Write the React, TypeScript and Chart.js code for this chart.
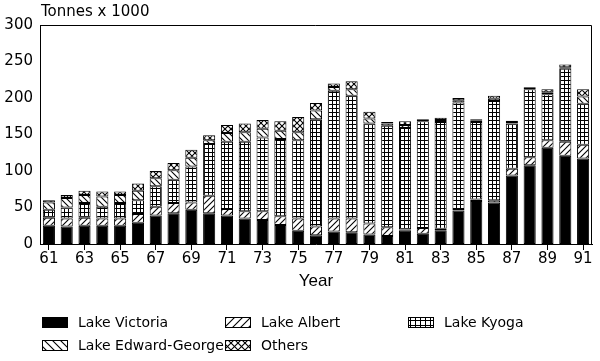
import { useEffect, useRef } from 'react';
import { Chart, registerables } from 'chart.js';

Chart.register(...registerables);

const YEARS = ['61','62','63','64','65','66','67','68','69','70','71','72','73','74','75','76','77','78','79','80','81','82','83','84','85','86','87','88','89','90','91'];
const VICTORIA = [25,24,25,25,25,29,39,42,47,42,39,35,33,26,18,12,17,16,13,11,19,14,19,46,59,57,94,108,132,121,117];
const ALBERT = [11,11,11,10,10,12,12,14,10,24,9,10,12,12,17,12,18,19,15,12,1,8,2,2,2,3,9,11,10,19,19];
const KYOGA = [11,15,20,16,21,19,28,32,49,71,92,95,101,106,107,147,175,168,137,139,139,146,146,146,106,136,62,93,63,100,56];
const EDWARD_GEORGE = [10,13,11,14,11,13,11,13,12,5,12,13,12,11,11,12,5,9,7,3,4,2,3,3,2,3,2,2,3,2,10];
const OTHERS = [3,4,6,7,5,10,10,10,11,7,11,12,12,13,21,10,5,11,9,2,5,1,3,3,2,4,2,1,4,4,10];
const SERIES_NAMES = ['Lake Victoria','Lake Albert','Lake Kyoga','Lake Edward-George','Others'];
const Y_TICKS = [0,50,100,150,200,250,300];
const Y_TITLE = 'Tonnes x 1000';
const X_TITLE = 'Year';

type Kind = 'solid' | 'fwd' | 'grid' | 'back' | 'cross';
const KINDS: Kind[] = ['solid','fwd','grid','back','cross'];

function makePattern(kind: Kind, s: number): CanvasPattern | string {
  if (kind === 'solid') return '#000';
  const c = document.createElement('canvas');
  c.width = s; c.height = s;
  const g = c.getContext('2d')!;
  g.fillStyle = '#fff';
  g.fillRect(0, 0, s, s);
  g.strokeStyle = '#000';
  g.fillStyle = '#000';
  g.lineWidth = 1.1;
  const fwd = () => {
    g.beginPath();
    g.moveTo(-1, s + 1); g.lineTo(s + 1, -1);
    g.moveTo(-2, 2); g.lineTo(2, -2);
    g.moveTo(s - 2, s + 2); g.lineTo(s + 2, s - 2);
    g.stroke();
  };
  const back = () => {
    g.beginPath();
    g.moveTo(-1, -1); g.lineTo(s + 1, s + 1);
    g.moveTo(s - 2, -2); g.lineTo(s + 2, 2);
    g.moveTo(-2, s - 2); g.lineTo(2, s + 2);
    g.stroke();
  };
  if (kind === 'fwd') fwd();
  else if (kind === 'back') back();
  else if (kind === 'cross') { fwd(); back(); }
  else if (kind === 'grid') {
    g.fillRect(0, 0, 1, s);
    g.fillRect(0, 0, s, 1);
  }
  return g.createPattern(c, 'repeat')!;
}

export default function App() {
  const ref = useRef<HTMLCanvasElement | null>(null);

  useEffect(() => {
    const canvas = ref.current;
    if (!canvas) return;
    const sizes = [0, 6, 4, 6, 6];
    const legendSizes = [0, 8, 5, 8, 7];
    const fills = KINDS.map((k, i) => makePattern(k, sizes[i]));
    const legendFills = KINDS.map((k, i) => makePattern(k, legendSizes[i]));
    const values = [VICTORIA, ALBERT, KYOGA, EDWARD_GEORGE, OTHERS];

    const decor = {
      id: 'decor',
      afterDraw(chart: any) {
        const { ctx, chartArea } = chart;
        const { left, top, right, bottom } = chartArea;
        ctx.save();
        ctx.strokeStyle = '#000';
        ctx.lineWidth = 1;
        ctx.beginPath();
        ctx.moveTo(left, top + 0.5);
        ctx.lineTo(right - 0.5, top + 0.5);
        ctx.lineTo(right - 0.5, bottom);
        ctx.stroke();

        ctx.fillStyle = '#000';
        ctx.font = '15px "DejaVu Sans"';
        ctx.textAlign = 'left';
        ctx.textBaseline = 'alphabetic';
        ctx.fillText(Y_TITLE, 41, 16);

        const colX = [42, 225, 408];
        const rowY = [317, 340];
        ctx.font = '14px "DejaVu Sans"';
        ctx.textBaseline = 'middle';
        SERIES_NAMES.forEach((name, i) => {
          const x = colX[i % 3];
          const y = rowY[Math.floor(i / 3)];
          ctx.fillStyle = legendFills[i];
          ctx.fillRect(x, y, 26, 11);
          ctx.strokeStyle = '#000';
          ctx.lineWidth = 1;
          ctx.strokeRect(x + 0.5, y + 0.5, 25, 10);
          ctx.fillStyle = '#000';
          ctx.fillText(name, x + 36, y + 6);
        });
        ctx.restore();
      },
    };

    const chart = new Chart(canvas, {
      type: 'bar',
      data: {
        labels: YEARS,
        datasets: values.map((v, i) => ({
          label: SERIES_NAMES[i],
          data: v,
          backgroundColor: fills[i] as any,
          borderColor: '#000',
          borderWidth: 1,
          borderSkipped: false,
          barPercentage: 0.68,
          categoryPercentage: 1,
        })),
      },
      options: {
        responsive: false,
        animation: false,
        events: [],
        layout: { padding: { top: 25, left: 0, right: 8, bottom: 61 } },
        plugins: { legend: { display: false }, tooltip: { enabled: false }, title: { display: false } },
        scales: {
          x: {
            stacked: true,
            afterFit: (s: any) => { s.height = 56; },
            grid: {
              display: true,
              offset: false,
              drawOnChartArea: false,
              drawTicks: true,
              tickLength: 6,
              lineWidth: 1,
              color: (c: any) => (c.index % 2 === 0 ? '#000' : 'rgba(0,0,0,0)'),
            },
            border: { display: true, color: '#000', width: 1 },
            ticks: {
              autoSkip: false,
              maxRotation: 0,
              padding: 0,
              color: '#000',
              font: { family: 'DejaVu Sans', size: 15 },
              callback: (_v: any, i: number) => (i % 2 === 0 ? YEARS[i] : ''),
            },
            title: {
              display: true,
              text: X_TITLE,
              color: '#000',
              font: { family: 'Liberation Sans', size: 17 },
              padding: { top: 0, bottom: 8 },
            },
          },
          y: {
            stacked: true,
            min: 0,
            max: 300,
            afterFit: (s: any) => { s.width = 40; },
            afterBuildTicks: (s: any) => { s.ticks = Y_TICKS.map((v) => ({ value: v })); },
            grid: { display: false, drawTicks: false },
            border: { display: true, color: '#000', width: 1 },
            ticks: {
              padding: 7,
              color: '#000',
              font: { family: 'DejaVu Sans', size: 15 },
            },
          },
        },
      },
      plugins: [decor],
    });
    return () => chart.destroy();
  }, []);

  return (
    <div style={{ position: 'absolute', left: 0, top: 0, width: 600, height: 361, background: '#fff' }}>
      <canvas ref={ref} width={600} height={361} />
    </div>
  );
}
